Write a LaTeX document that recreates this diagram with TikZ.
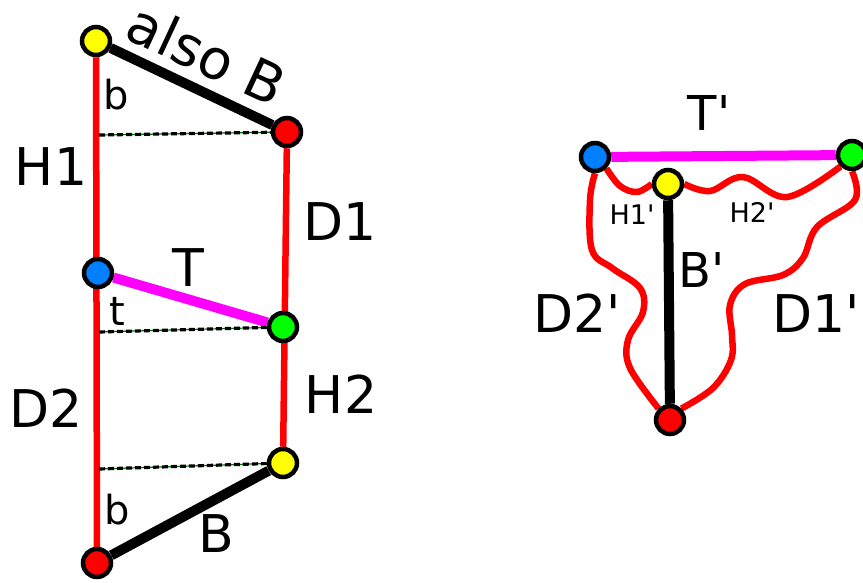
\documentclass[tikz,border=0pt]{standalone}
\usepackage{fontspec}
\setmainfont{DejaVu Sans}
\usetikzlibrary{backgrounds}
\definecolor{dotblue}{RGB}{0,128,255}
\definecolor{dotred}{RGB}{255,0,0}
\definecolor{dotgreen}{RGB}{0,255,0}
\definecolor{dotyellow}{RGB}{255,255,0}
\definecolor{tmagenta}{RGB}{255,0,255}
\newcommand{\pr}{\textquotesingle}

\begin{document}
\begin{tikzpicture}[x=1pt,y=-1pt,
    dot/.style={circle,draw=black,line width=4.5pt,minimum size=28pt,inner sep=0pt},
    side/.style={dotred,line width=6.5pt},
    chord/.style={black,line width=10pt},
    tlink/.style={tmagenta,line width=10pt},
    level/.style={black,dash pattern=on 6pt off 3pt,line width=3.2pt},
    guide/.style={green!45!black,line width=1.2pt},
    big/.style={font=\fontsize{52}{52}\selectfont,inner sep=0pt},
    mid/.style={font=\fontsize{40}{40}\selectfont,inner sep=0pt},
    sub/.style={font=\fontsize{27}{27}\selectfont,inner sep=0pt}]
  \useasboundingbox (0,0) rectangle (863,582);

  % Points (left)
  \node[dot,fill=dotyellow] (ytop) at (96,41) {};
  \node[dot,fill=dotred] (rtop) at (287,132) {};
  \node[dot,fill=dotblue] (bmid) at (98,273) {};
  \node[dot,fill=dotgreen] (gmid) at (283,327) {};
  \node[dot,fill=dotyellow] (ylow) at (283,463) {};
  \node[dot,fill=dotred] (rlow) at (97,563) {};
  \coordinate (l1) at (99,135);
  \coordinate (l2) at (99,332);
  \coordinate (l3) at (99,469);

  % Points (right)
  \node[dot,fill=dotblue] (bt) at (595,157) {};
  \node[dot,fill=dotgreen] (gt) at (852,155) {};
  \node[dot,fill=dotyellow] (yt) at (668,184) {};
  \node[dot,fill=dotred] (rt) at (670,420) {};

  \begin{scope}[on background layer]
    \draw[side] (ytop) -- (rlow);
    \draw[side] (rtop) -- (ylow);
    \draw[side] (ytop) -- (rtop);
    \draw[chord] (ytop) -- (rtop);
    \draw[tlink] (bmid) -- (gmid);
    \draw[chord] (rlow) -- (ylow);
    % Levels
    \foreach \a/\b in {l1/rtop,l2/gmid,l3/ylow} {
      \draw[guide] (\a) -- (\b);
      \draw[level] (\a) -- (\b);
    }
    % Folded copy
    \draw[tlink] (bt) -- (gt);
    \draw[chord] (yt) -- (rt);
    \draw[side,line join=round] plot[smooth,tension=0.6] coordinates
      {(bt.south east) (620,186) (637,192) (yt.west)};
    \draw[side,line join=round] plot[smooth,tension=0.6] coordinates
      {(yt.east) (710,191) (743,177) (787,197) (gt.south west)};
    \draw[side,line join=round] plot[smooth,tension=0.6] coordinates
      {(bt.south) (590,200) (592,250) (612,268) (640,288) (643,312) (628,340) (630,368) (rt.north west)};
    \draw[side,line join=round] plot[smooth,tension=0.6] coordinates
      {(gt.south) (855,200) (817,227) (803,258) (783,275) (745,284) (730,305) (732,335) (731,360) (713,388) (rt.north east)};
  \end{scope}

  % Labels
  \node[big,font=\fontsize{55}{55}\selectfont,rotate=-25] (lalsob) at (207,54) {also B};
  \node[mid] (lb1) at (116,95) {b};
  \node[big] (lh1) at (51,167) {H1};
  \node[big] (ld1) at (340,222) {D1};
  \node[big] (lt) at (188,268) {T};
  \node[mid] (lt2) at (117,311) {t};
  \node[big] (lh2) at (341,394) {H2};
  \node[big] (ld2) at (46,408) {D2};
  \node[mid] (lb2) at (117,510) {b};
  \node[big] (lbb) at (216,534) {B};
  \node[big,font=\fontsize{48}{48}\selectfont] (ltp) at (709,113) {T\pr};
  \node[sub] (lh1p) at (632,215) {H1\pr};
  \node[sub] (lh2p) at (752,212) {H2\pr};
  \node[big,font=\fontsize{48}{48}\selectfont] (lbp) at (702,270) {B\pr};
  \node[big] (ld2p) at (577,313) {D2\pr};
  \node[big] (ld1p) at (816,314) {D1\pr};
\end{tikzpicture}
\end{document}
